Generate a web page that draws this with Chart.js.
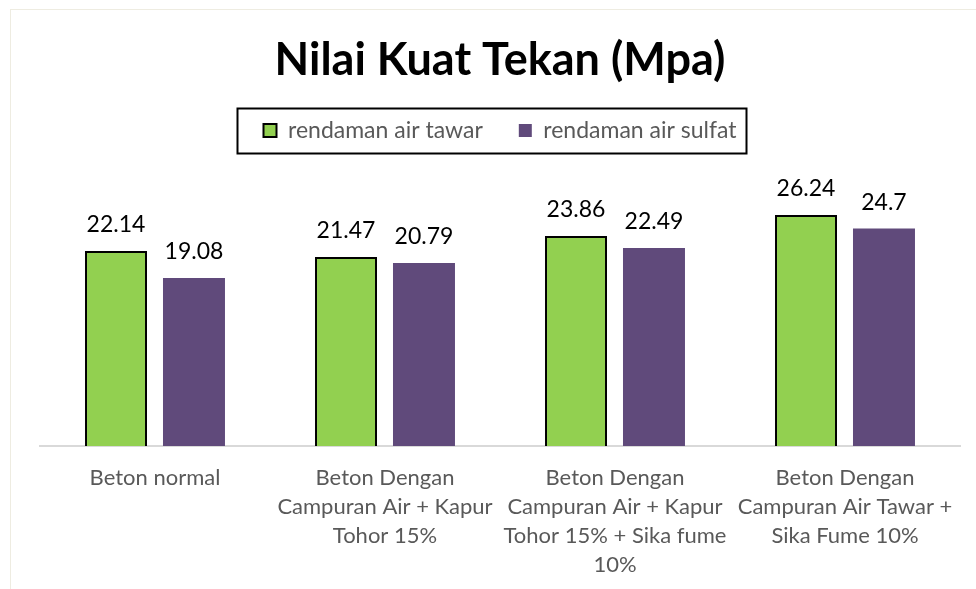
<!DOCTYPE html>
<html>
<head>
<meta charset="utf-8">
<script src="https://cdn.jsdelivr.net/npm/chart.js@4"></script>
<style>
  html, body { margin: 0; padding: 0; background: #fff; }
  #wrap { position: relative; width: 976px; height: 589px; overflow: hidden; }
  #frame { position: absolute; left: 10px; top: 9px; width: 1200px; height: 900px; border: 1.5px solid #eeece1; }
  #chart { position: absolute; left: 0; top: 0; }
</style>
</head>
<body>
<div id="wrap">
  <div id="frame"></div>
  <canvas id="chart" width="976" height="589"></canvas>
</div>
<script>
// data
const categories = [
  'Beton normal',
  ['Beton Dengan', 'Campuran Air + Kapur', 'Tohor 15%'],
  ['Beton Dengan', 'Campuran Air + Kapur', 'Tohor 15% + Sika fume', '10%'],
  ['Beton Dengan', 'Campuran Air Tawar +', 'Sika Fume 10%']
];
const airTawar = [22.14, 21.47, 23.86, 26.24];
const airSulfat = [19.08, 20.79, 22.49, 24.7];
const seriesNames = ['rendaman air tawar', 'rendaman air sulfat'];

const FONT = 'Lato';

// angka di atas batang
const valueLabels = {
  id: 'valueLabels',
  afterDatasetsDraw(chart) {
    const ctx = chart.ctx;
    ctx.save();
    ctx.font = '23px ' + FONT;
    ctx.fillStyle = '#000';
    ctx.textAlign = 'center';
    ctx.textBaseline = 'bottom';
    chart.data.datasets.forEach((ds, i) => {
      chart.getDatasetMeta(i).data.forEach((bar, j) => {
        ctx.fillText(String(ds.data[j]), bar.x, bar.y - 15);
      });
    });
    ctx.restore();
  }
};

// kotak legenda
const legendFrame = {
  id: 'legendFrame',
  afterDraw(chart) {
    const boxes = chart.legend.legendHitBoxes;
    if (!boxes || !boxes.length) return;
    const left = Math.min(...boxes.map(b => b.left)) - 26;
    const right = Math.max(...boxes.map(b => b.left + b.width)) + 10;
    const mid = boxes[0].top + boxes[0].height / 2;
    const ctx = chart.ctx;
    ctx.save();
    ctx.strokeStyle = '#000';
    ctx.lineWidth = 2;
    ctx.strokeRect(left, mid - 22, right - left, 45);
    ctx.restore();
  }
};

new Chart(document.getElementById('chart'), {
  type: 'bar',
  data: {
    labels: categories,
    datasets: [
      {
        label: seriesNames[0],
        data: airTawar,
        backgroundColor: '#92d050',
        borderColor: '#000',
        borderWidth: 2,
        barPercentage: 0.795,
        categoryPercentage: 0.678
      },
      {
        label: seriesNames[1],
        data: airSulfat,
        backgroundColor: '#604a7b',
        borderColor: '#604a7b',
        borderWidth: 0,
        barPercentage: 0.795,
        categoryPercentage: 0.678
      }
    ]
  },
  options: {
    responsive: false,
    animation: false,
    layout: { padding: { left: 40, right: 16, bottom: -7 } },
    plugins: {
      title: {
        display: true,
        text: 'Nilai Kuat Tekan (Mpa)',
        color: '#000',
        font: { family: FONT, size: 45, weight: 'bold', lineHeight: 1 },
        padding: { top: 38, bottom: 0 }
      },
      legend: {
        display: true,
        labels: {
          color: '#595959',
          font: { family: FONT, size: 23 },
          boxWidth: 13,
          boxHeight: 13,
          padding: 36
        }
      },
      tooltip: { enabled: false }
    },
    scales: {
      x: {
        grid: { display: false, drawTicks: false },
        border: { color: '#d9d9d9', width: 2 },
        ticks: {
          color: '#595959',
          font: { family: FONT, size: 22, lineHeight: 1.318 },
          padding: 17,
          maxRotation: 0,
          autoSkip: false
        }
      },
      y: {
        display: false,
        min: 0,
        max: 33.4
      }
    }
  },
  plugins: [valueLabels, legendFrame]
});
</script>
</body>
</html>
